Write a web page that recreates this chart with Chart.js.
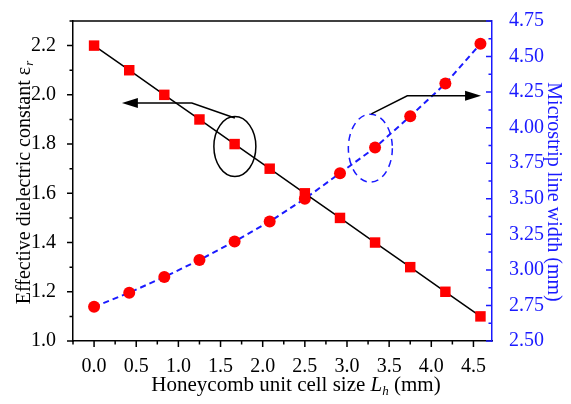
<!DOCTYPE html>
<html>
<head>
<meta charset="utf-8">
<script src="https://cdn.jsdelivr.net/npm/chart.js@4.4.0/dist/chart.umd.min.js"></script>
<style>
    body { margin: 0; background: #fff; }
    #wrap { width: 571px; height: 404px; }
</style>
</head>
<body>
<div id="wrap"><canvas id="myChart" width="571" height="404"></canvas></div>
<script>
// honeycomb unit cell size Lh (mm)
var cellSize = [0, 0.417, 0.833, 1.25, 1.667, 2.083, 2.5, 2.917, 3.333, 3.75, 4.167, 4.583];
// effective dielectric constant
var permittivity = [2.2, 2.1, 2.0, 1.9, 1.8, 1.7, 1.6, 1.5, 1.4, 1.3, 1.2, 1.1];
// microstrip line width (mm)
var stripWidth = [2.74, 2.84, 2.95, 3.07, 3.20, 3.34, 3.50, 3.68, 3.86, 4.08, 4.31, 4.59];

var xTicks = [0, 0.5, 1, 1.5, 2, 2.5, 3, 3.5, 4, 4.5];
var leftTicks = [1.0, 1.2, 1.4, 1.6, 1.8, 2.0, 2.2];
var rightTicks = [2.5, 2.75, 3.0, 3.25, 3.5, 3.75, 4.0, 4.25, 4.5, 4.75];

var serif = '"Liberation Serif", "DejaVu Serif", serif';
var blue = '#1a1aff';

var toPoints = (xs, ys) => xs.map((x, i) => ({ x: x, y: ys[i] }));
var setTicks = (list) => (scale) => { scale.ticks = list.map(v => ({ value: v })); };

// axis ticks (major + minor), top frame line and axis titles
var decorations = {
    id: 'decorations',
    afterDraw: function(chart) {
        var ctx = chart.ctx;
        var a = chart.chartArea;
        var sx = chart.scales.x, sl = chart.scales.y, sr = chart.scales.y1;
        ctx.save();
        ctx.lineWidth = 1.5;

        // top frame
        ctx.strokeStyle = '#000';
        ctx.beginPath();
        ctx.moveTo(a.left, a.top);
        ctx.lineTo(a.right, a.top);
        ctx.stroke();

        // bottom ticks (outward)
        ctx.beginPath();
        for (var v = -0.25; v <= 4.7; v += 0.25) {
            var px = sx.getPixelForValue(v);
            var major = Math.abs(v * 2 - Math.round(v * 2)) < 1e-6;
            ctx.moveTo(px, a.bottom);
            ctx.lineTo(px, a.bottom + (major ? 6 : 3.5));
        }
        // left ticks (outward)
        for (var v = 1.0; v <= 2.31; v += 0.1) {
            var py = sl.getPixelForValue(v);
            var major = Math.abs(v * 5 - Math.round(v * 5)) < 1e-6;
            ctx.moveTo(a.left, py);
            ctx.lineTo(a.left - (major ? 6 : 3.5), py);
        }
        ctx.stroke();

        // right ticks (inward, blue)
        ctx.strokeStyle = blue;
        ctx.beginPath();
        for (var v = 2.5; v <= 4.76; v += 0.125) {
            var py = sr.getPixelForValue(v);
            var major = Math.abs(v * 4 - Math.round(v * 4)) < 1e-6;
            ctx.moveTo(a.right, py);
            ctx.lineTo(a.right - (major ? 6 : 3.5), py);
        }
        ctx.stroke();

        // titles
        var big = '21px ' + serif;
        var small = '13px ' + serif;

        // left
        ctx.fillStyle = '#000';
        ctx.save();
        ctx.translate(25, 183);
        ctx.rotate(-Math.PI / 2);
        ctx.font = '20px ' + serif;
        var t1 = 'Effective dielectric constant \u03b5';
        var w1 = ctx.measureText(t1).width;
        ctx.font = 'italic ' + small;
        var w2 = ctx.measureText('r').width;
        var x0 = -(w1 + w2) / 2;
        ctx.textBaseline = 'middle';
        ctx.font = '20px ' + serif;
        ctx.fillText(t1, x0, 0);
        ctx.font = 'italic ' + small;
        ctx.fillText('r', x0 + w1 + 1, 5);
        ctx.restore();

        // right
        ctx.save();
        ctx.fillStyle = blue;
        ctx.translate(553, 192);
        ctx.rotate(Math.PI / 2);
        ctx.font = '20px ' + serif;
        ctx.textAlign = 'center';
        ctx.textBaseline = 'middle';
        ctx.fillText('Microstrip line width (mm)', 0, 0);
        ctx.restore();

        // bottom
        ctx.textBaseline = 'middle';
        var p1 = 'Honeycomb unit cell size ', p3 = ' (mm)';
        ctx.font = big;
        var wa = ctx.measureText(p1).width, wc = ctx.measureText(p3).width;
        ctx.font = 'italic ' + big;
        var wb = ctx.measureText('L').width;
        ctx.font = 'italic ' + small;
        var wh = ctx.measureText('h').width;
        var bx = 296 - (wa + wb + wh + wc) / 2;
        var by = 385;
        ctx.font = big;
        ctx.fillText(p1, bx, by);
        ctx.font = 'italic ' + big;
        ctx.fillText('L', bx + wa, by);
        ctx.font = 'italic ' + small;
        ctx.fillText('h', bx + wa + wb, by + 7);
        ctx.font = big;
        ctx.fillText(p3, bx + wa + wb + wh, by);

        ctx.restore();
    }
};

// ellipses and arrows pointing each curve to its axis
var callouts = {
    id: 'callouts',
    afterDatasetsDraw: function(chart) {
        var ctx = chart.ctx;
        var sx = chart.scales.x, sl = chart.scales.y, sr = chart.scales.y1;
        ctx.save();
        ctx.lineWidth = 1.5;

        var arrowHead = (x, y, dir) => {
            ctx.beginPath();
            ctx.moveTo(x, y);
            ctx.lineTo(x - dir * 16, y - 5);
            ctx.lineTo(x - dir * 16, y + 5);
            ctx.closePath();
            ctx.fill();
        };

        // black ellipse around the permittivity curve
        ctx.strokeStyle = '#000';
        ctx.fillStyle = '#000';
        ctx.beginPath();
        ctx.ellipse(sx.getPixelForValue(1.67), sl.getPixelForValue(1.79), 21, 30, 0, 0, Math.PI * 2);
        ctx.stroke();
        ctx.beginPath();
        ctx.moveTo(sx.getPixelForValue(1.67), sl.getPixelForValue(1.906));
        ctx.lineTo(sx.getPixelForValue(1.16), sl.getPixelForValue(1.967));
        ctx.lineTo(sx.getPixelForValue(0.45), sl.getPixelForValue(1.967));
        ctx.stroke();
        arrowHead(sx.getPixelForValue(0.33), sl.getPixelForValue(1.967), -1);

        // dashed blue ellipse around the width curve
        ctx.strokeStyle = blue;
        ctx.setLineDash([7, 5]);
        ctx.beginPath();
        ctx.ellipse(sx.getPixelForValue(3.277), sr.getPixelForValue(3.856), 22, 34, 0, 0, Math.PI * 2);
        ctx.stroke();
        ctx.setLineDash([]);
        ctx.strokeStyle = '#000';
        ctx.beginPath();
        ctx.moveTo(sx.getPixelForValue(3.289), sr.getPixelForValue(4.097));
        ctx.lineTo(sx.getPixelForValue(3.715), sr.getPixelForValue(4.224));
        ctx.lineTo(sx.getPixelForValue(4.45), sr.getPixelForValue(4.224));
        ctx.stroke();
        arrowHead(sx.getPixelForValue(4.59), sr.getPixelForValue(4.224), 1);

        ctx.restore();
    }
};

var main = () => {
    var canvas = document.getElementById('myChart');

    var data = {
        datasets: [{
            label: 'Effective dielectric constant',
            data: toPoints(cellSize, permittivity),
            yAxisID: 'y',
            borderColor: '#000',
            borderWidth: 1.5,
            pointStyle: 'rect',
            pointRadius: 7.4,
            pointBackgroundColor: '#ff0000',
            pointBorderWidth: 0,
            order: 1
        }, {
            label: 'Microstrip line width',
            data: toPoints(cellSize, stripWidth),
            yAxisID: 'y1',
            borderColor: blue,
            borderWidth: 2,
            borderDash: [6, 4],
            pointStyle: 'circle',
            pointRadius: 6,
            pointBackgroundColor: '#ff0000',
            pointBorderWidth: 0,
            order: 2
        }]
    };

    new Chart(canvas, {
        type: 'line',
        data: data,
        options: {
            responsive: false,
            animation: false,
            layout: {
                padding: { left: 0, right: 0, top: 18, bottom: 0 }
            },
            plugins: {
                legend: { display: false },
                tooltip: { enabled: false }
            },
            scales: {
                x: {
                    type: 'linear',
                    min: -0.25,
                    max: 4.72,
                    afterBuildTicks: setTicks(xTicks),
                    afterFit: (s) => { s.height = 63; },
                    grid: { display: false },
                    border: { display: true, color: '#000', width: 1.5 },
                    ticks: {
                        color: '#000',
                        padding: 6,
                        font: { family: serif, size: 20 },
                        callback: (v) => v.toFixed(1)
                    }
                },
                y: {
                    position: 'left',
                    min: 1.0,
                    max: 2.3,
                    afterBuildTicks: setTicks(leftTicks),
                    afterFit: (s) => { s.width = 73; },
                    grid: { display: false },
                    border: { display: true, color: '#000', width: 1.5 },
                    ticks: {
                        color: '#000',
                        padding: 9,
                        font: { family: serif, size: 20 },
                        callback: (v) => v.toFixed(1)
                    }
                },
                y1: {
                    position: 'right',
                    min: 2.5,
                    max: 4.75,
                    afterBuildTicks: setTicks(rightTicks),
                    afterFit: (s) => { s.width = 79; },
                    grid: { display: false },
                    border: { display: true, color: blue, width: 1.5 },
                    ticks: {
                        color: blue,
                        padding: 9,
                        font: { family: serif, size: 20 },
                        callback: (v) => v.toFixed(2)
                    }
                }
            }
        },
        plugins: [callouts, decorations]
    });
};

main();
</script>
</body>
</html>
